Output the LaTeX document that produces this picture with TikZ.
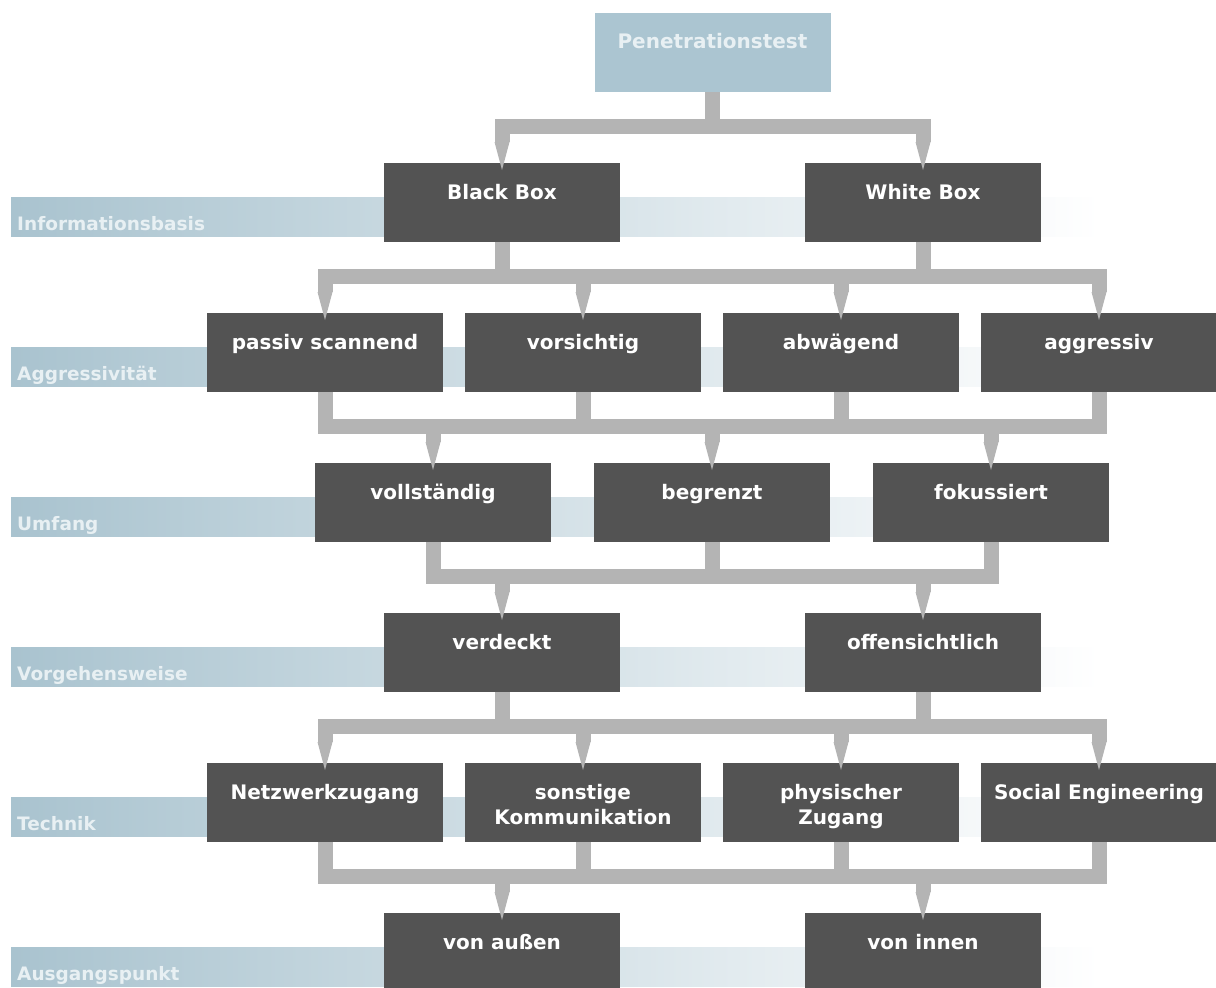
\documentclass[tikz,border=0pt]{standalone}
\usepackage{fontspec}
\setmainfont{DejaVu Sans}
\usetikzlibrary{arrows.meta}

\definecolor{boxgrey}{HTML}{535353}
\definecolor{conngrey}{HTML}{B4B4B4}
\definecolor{headblue}{HTML}{ABC5D1}
\definecolor{bandblue}{HTML}{A9C3CF}
\definecolor{labeltext}{HTML}{E8F0F3}

\tikzstyle{box}=[anchor=north, fill=boxgrey, text=white, minimum width=236pt, inner sep=0pt, text height=36pt, text depth=43pt, font=\fontsize{20}{25}\selectfont\bfseries]
\tikzstyle{head}=[box, fill=headblue, text=labeltext, text height=35pt, text depth=44pt]
\tikzstyle{rowlabel}=[anchor=base west, text=labeltext, inner sep=0pt, font=\fontsize{18.5}{22}\selectfont\bfseries]
\tikzstyle{conn}=[draw=conngrey, line width=15pt]
\tikzstyle{bar}=[conn, line cap=rect]
\tikzstyle{feed}=[conn, -{Triangle[length=28pt, width=15pt, line width=0pt]}]

\newcommand{\twolines}[2]{\begin{tabular}[t]{@{}c@{}}#1\\#2\end{tabular}}

\begin{document}
\begin{tikzpicture}[x=1pt, y=-1pt]
	\useasboundingbox (0,0) rectangle (1216,988);

	% Bands behind the rows
	\foreach \t/\name in {163/Informationsbasis, 313/Aggressivität, 463/Umfang, 613/Vorgehensweise, 763/Technik, 913/Ausgangspunkt}{
		\shade[left color=bandblue, right color=white] (11,{\t+34}) rectangle (1100,{\t+73});
		\node[rowlabel] (lab\t) at (17,{\t+67}) {\name};
	}

	% Boxes
	\node[head] (pt) at (712.5,13) {Penetrationstest};

	\node[box] (bb) at (502,163) {Black Box};
	\node[box] (wb) at (923,163) {White Box};

	\node[box] (pas) at ( 325,313) {passiv scannend};
	\node[box] (vor) at ( 583,313) {vorsichtig};
	\node[box] (abw) at ( 841,313) {abwägend};
	\node[box] (agg) at (1099,313) {aggressiv};

	\node[box] (voll) at (433,463) {vollständig};
	\node[box] (begr) at (712,463) {begrenzt};
	\node[box] (foku) at (991,463) {fokussiert};

	\node[box] (verd)  at (502,613) {verdeckt};
	\node[box] (offen) at (923,613) {offensichtlich};

	\node[box] (netz)  at ( 325,763) {Netzwerkzugang};
	\node[box] (sonst) at ( 583,763) {\twolines{sonstige}{Kommunikation}};
	\node[box] (phys)  at ( 841,763) {\twolines{physischer}{Zugang}};
	\node[box] (soc)   at (1099,763) {Social Engineering};

	\node[box] (aussen) at (502,913) {von außen};
	\node[box] (innen)  at (923,913) {von innen};

	% Bar levels
	\coordinate (bar0) at (0,126);
	\coordinate (bar1) at (0,276);
	\coordinate (bar2) at (0,426);
	\coordinate (bar3) at (0,576);
	\coordinate (bar4) at (0,726);
	\coordinate (bar5) at (0,876);

	% Connectors
	\draw[conn] (pt.south) -- (pt.south |- bar0);
	\draw[bar] (bb.north |- bar0) -- (wb.north |- bar0);
	\foreach \n in {bb,wb}{ \draw[feed] (\n.north |- bar0) -- ([yshift=-7pt]\n.north); }

	\foreach \n in {bb,wb}{ \draw[conn] (\n.south) -- (\n.south |- bar1); }
	\draw[bar] (pas.north |- bar1) -- (agg.north |- bar1);
	\foreach \n in {pas,vor,abw,agg}{ \draw[feed] (\n.north |- bar1) -- ([yshift=-7pt]\n.north); }

	\foreach \n in {pas,vor,abw,agg}{ \draw[conn] (\n.south) -- (\n.south |- bar2); }
	\draw[bar] (pas.south |- bar2) -- (agg.south |- bar2);
	\foreach \n in {voll,begr,foku}{ \draw[feed] (\n.north |- bar2) -- ([yshift=-7pt]\n.north); }

	\foreach \n in {voll,begr,foku}{ \draw[conn] (\n.south) -- (\n.south |- bar3); }
	\draw[bar] (voll.south |- bar3) -- (foku.south |- bar3);
	\foreach \n in {verd,offen}{ \draw[feed] (\n.north |- bar3) -- ([yshift=-7pt]\n.north); }

	\foreach \n in {verd,offen}{ \draw[conn] (\n.south) -- (\n.south |- bar4); }
	\draw[bar] (netz.north |- bar4) -- (soc.north |- bar4);
	\foreach \n in {netz,sonst,phys,soc}{ \draw[feed] (\n.north |- bar4) -- ([yshift=-7pt]\n.north); }

	\foreach \n in {netz,sonst,phys,soc}{ \draw[conn] (\n.south) -- (\n.south |- bar5); }
	\draw[bar] (netz.south |- bar5) -- (soc.south |- bar5);
	\foreach \n in {aussen,innen}{ \draw[feed] (\n.north |- bar5) -- ([yshift=-7pt]\n.north); }
\end{tikzpicture}
\end{document}
